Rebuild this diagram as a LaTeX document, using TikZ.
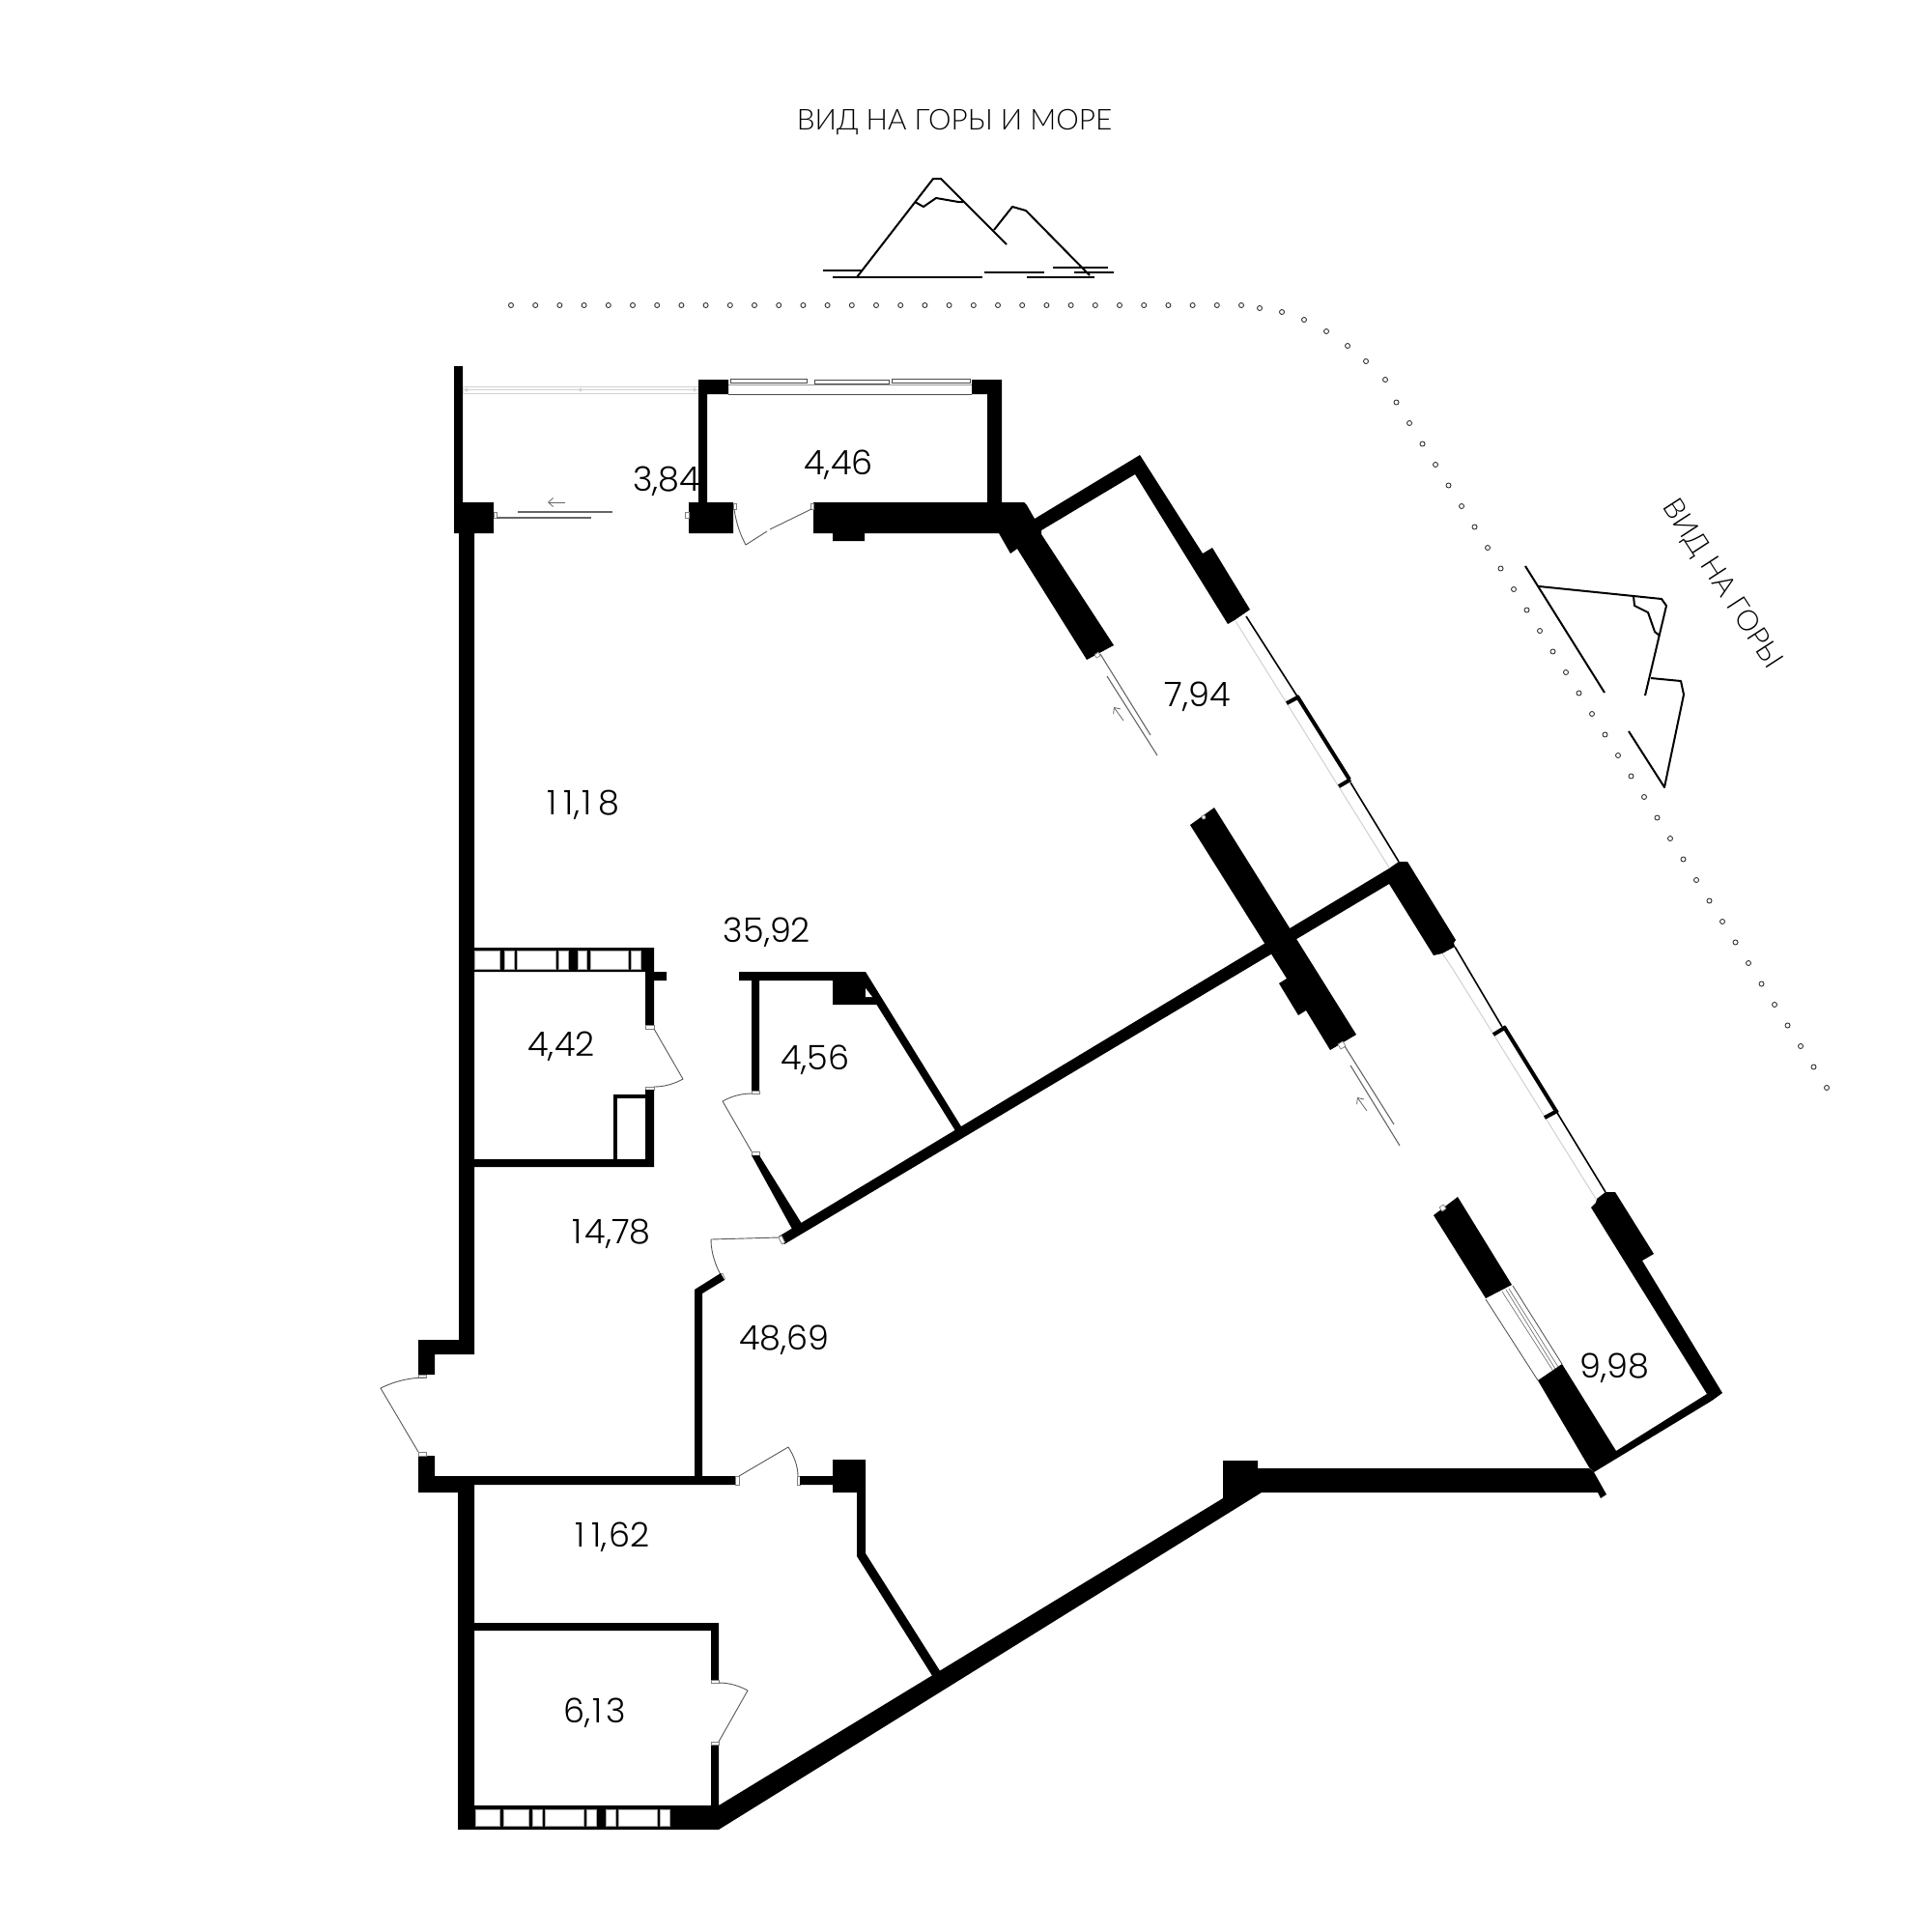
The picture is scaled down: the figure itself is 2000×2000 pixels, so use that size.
\documentclass[tikz,border=0pt]{standalone}
\usepackage{fontspec}
\usetikzlibrary{arrows.meta}
\newfontfamily\numfont{Poppins Light}
\newfontfamily\viewfont{Lato Light}
\newcommand{\oneskip}{\kern7pt}
\tikzset{
  wall/.style={fill=black,draw=none},
  jamb/.style={fill=white,draw=gray,line width=0.7},
  leaf/.style={draw=black!65,line width=0.9,line join=round},
  slide/.style={draw=black!60,line width=1.1},
  glass/.style={draw=black!18,line width=1},
  frame/.style={draw=black!70,line width=0.8,fill=white},
  hole/.style={fill=white,draw=black!35,line width=0.6},
  hill/.style={draw=black,line width=2,line join=round},
  dot/.style={circle,draw=black!80,line width=0.9,fill=white,minimum size=5,inner sep=0},
  area/.style={font=\numfont\fontsize{35}{36}\selectfont,anchor=base,inner sep=0},
  view/.style={font=\viewfont\fontsize{29.7}{30}\selectfont,inner sep=0},
  barb/.style={draw=black!60,line width=0.8,-{Straight Barb[length=5,width=9]}}
}
\begin{document}
\begin{tikzpicture}[x=1pt,y=-1pt]
\useasboundingbox (0,0) rectangle (2000,2000);
\fill[white] (0,0) rectangle (2000,2000);

% balcony north-west
\fill[wall] (470,379)--(479,379)--(479,520)--(511,520)--(511,552)--(491,552)--(491,1402)--(450,1402)--(450,1423)--(433,1423)--(433,1387)--(475,1387)--(475,552)--(470,552)--cycle;
\draw[glass] (479,400) rectangle (723,407);
\draw[glass] (479,403.5)--(723,403.5);
\foreach \x in {483,601,719}{\draw[glass,line width=0.6] (\x,403.5) circle (1.6);}
% north room
\fill[wall] (723,393)--(754,393)--(754,408)--(732,408)--(732,520)--(759,520)--(759,552)--(713,552)--(713,520)--(723,520)--cycle;
\fill[wall] (1006,393)--(1037,393)--(1037,520)--(1060,520)--(1063,523)--(1071,537)--(1180,471)--(1245,573)--(1255,567)--(1294,631)--(1291,633)--(1278,642)--(1271,646)--(1175,491)--(1078,549)--(1078,553)--(1153,668)--(1125,683)--(1053,568)--(1046,573)--(1034,552)--(895,552)--(895,560)--(862,560)--(862,552)--(842,552)--(842,520)--(1022,520)--(1022,408)--(1006,408)--cycle;
\draw[black!70,line width=0.9] (754,408)--(1006,408);
\draw[black!40,line width=0.7] (754,398)--(1006,398);
\draw[frame] (756,392) rectangle (835,396);
\draw[frame] (843,393) rectangle (920,397);
\draw[frame] (923,392) rectangle (1004,396);
% door north room
\draw[jamb] (759,521) rectangle (762,527);
\draw[jamb] (839,521) rectangle (842,527);
\draw[leaf] (760,527) .. controls (762,541) and (766,553) .. (772,564) -- (794,550);
\draw[leaf] (797,548) -- (840,527);
% sliding north-west
\draw[jamb] (511,530) rectangle (514.5,536);
\draw[jamb] (709,530) rectangle (713,536);
\draw[slide] (514,536)--(612,536);
\draw[slide] (536,530)--(634,530);
\draw[barb] (585,520)--(567,520);
% sliding 7,94
\draw[slide] (1139,677)--(1191,761);
\draw[slide] (1146,700)--(1198,782);
\draw[barb] (1163,746)--(1153,732);
\draw[jamb] (1133,678)--(1137,675)--(1139,679)--(1135,681)--cycle;
% east windows upper
\draw[glass] (1279,643)--(1438,898);
\draw[black,line width=1.6] (1290,638)--(1343,721);
\draw[black,line width=4] (1343,721)--(1397,807);
\draw[black,line width=1.6] (1398,810)--(1448,892);
\draw[black,line width=4] (1332,728)--(1345,721);
\draw[black,line width=4] (1386,814)--(1398,807);
% east block 2 and long wall
\fill[wall] (1448,892)--(1457,892)--(1507,973)--(1505,976)--(1506,980)--(1493,987)--(1484,989)--(1438,915)--(812,1288)--(806,1280)--(1438,899)--cycle;
\draw[jamb] (806,1281)--(809,1279)--(812.5,1286)--(809.5,1288)--cycle;
% central diagonal wall
\fill[wall] (1232,854)--(1257,836)--(1404,1071)--(1377,1087)--(1352,1046)--(1344,1051)--(1324,1018)--(1332,1013)--cycle;
\draw[jamb] (1246,846) circle (2);
\draw[jamb] (1385,1081)--(1390,1078)--(1393,1083)--(1388,1086)--cycle;
\draw[slide] (1392,1083)--(1443,1164);
\draw[slide] (1398,1103)--(1449,1186);
\draw[barb] (1415,1150)--(1405,1136);
% east windows lower
\draw[glass] (1502,1000)--(1652,1241);
\draw[glass] (1493,987)--(1502,1000);
\draw[black,line width=1.6] (1506,980)--(1555,1063);
\draw[black,line width=4] (1557,1063)--(1612,1152);
\draw[black,line width=1.6] (1612,1152)--(1662,1234);
\draw[black,line width=4] (1546,1071)--(1559,1063);
\draw[black,line width=4] (1599,1157)--(1612,1150);
% block 3, outer wall, balcony south wall
\fill[wall] (1662,1234)--(1672,1234)--(1712,1298)--(1700,1305)--(1783,1442)--(1772,1450)--(1650,1524)--(1645,1519)--(1592,1429)--(1617,1412)--(1673,1502)--(1767,1443)--(1647,1250)--(1652,1245)--(1653,1241)--cycle;
% lower diagonal wall
\fill[wall] (1484,1258)--(1509,1239)--(1565,1330)--(1538,1344)--cycle;
\draw[jamb] (1490,1250)--(1494,1247)--(1497,1251)--(1493,1254)--cycle;
% balcony door glazing
\draw[black!70,line width=0.8] (1538,1345)--(1592,1429);
\draw[black!70,line width=0.8] (1566,1331)--(1617,1412);
\draw[black!60,line width=0.6] (1555,1337)--(1607,1418);
\draw[black!60,line width=0.6] (1559,1335)--(1610,1417);
\draw[black!60,line width=0.6] (1562,1334)--(1613,1415);
% south wall with tail
\fill[wall] (1266,1551)--(1266,1512)--(1302,1512)--(1302,1520)--(1645,1520)--(1650,1524)--(1663,1547)--(1657,1551)--(1654,1545)--(1306,1545)--(744,1894)--(474,1894)--(474,1545)--(433,1545)--(433,1507)--(450,1507)--(450,1528)--(761,1528)--(761,1537)--(491,1537)--(491,1869)--(736,1869)--(736,1806)--(744,1806)--(744,1869)--cycle;
\foreach \a/\b in {492/517,521/547,551/561,564/604,607/617,627/637,640/680,683/693}{\draw[hole] (\a,1873) rectangle (\b,1890.5);}
% room 6,13
\fill[wall] (491,1680)--(744,1680)--(744,1740)--(736,1740)--(736,1688)--(491,1688)--cycle;
\draw[jamb] (736,1739) rectangle (744,1742);
\draw[jamb] (736,1803) rectangle (744,1806);
\draw[leaf] (744,1742) .. controls (755,1742) and (765,1745) .. (774,1750) -- (744,1803);
% room 4,42
\fill[wall] (491,981)--(677,981)--(677,1006)--(690,1006)--(690,1015)--(677,1015)--(677,1061)--(668,1061)--(668,1006)--(491,1006)--cycle;
\foreach \a/\b in {491/517,522/532,535/575,578/588,598/607.5,611/650,653/663}{\draw[hole] (\a,984) rectangle (\b,1003);}
\draw[jamb] (668,1061) rectangle (677,1065);
\draw[jamb] (668,1125) rectangle (677,1128);
\draw[leaf] (677,1065) -- (707,1117) .. controls (698,1122) and (688,1125) .. (677,1125);
\fill[wall] (668,1128)--(677,1128)--(677,1208)--(491,1208)--(491,1200)--(635,1200)--(635,1133)--(668,1133)--cycle;
\fill[white] (638.6,1137) rectangle (668,1200);
% room 4,56
\fill[wall] (765,1006)--(896,1006)--(998,1171)--(993,1177)--(907.5,1040)--(862,1040)--(862,1015)--(786,1015)--(786,1129)--(778,1129)--(778,1015)--(765,1015)--cycle;
\fill[white] (896,1023)--(896,1032)--(903,1032)--cycle;
\draw[jamb] (778,1129) rectangle (786,1132);
\draw[jamb] (778,1192) rectangle (786,1196);
\draw[leaf] (778,1132) .. controls (767,1132) and (757,1135) .. (748,1140) -- (778,1192);
\fill[wall] (778,1196)--(786,1196)--(832,1270)--(822,1276)--cycle;
% door 48,69
\draw[leaf] (806,1281) -- (736,1283) .. controls (736,1297) and (741,1312) .. (749,1325);
\draw[jamb] (746,1319)--(748,1318)--(750.5,1324)--(748,1325.5)--cycle;
\fill[wall] (746,1318)--(750,1325)--(727,1339)--(727,1528)--(719,1528)--(719,1335)--cycle;
% entrance door
\draw[jamb] (433,1423) rectangle (441,1426);
\draw[jamb] (433,1503) rectangle (441,1507);
\draw[leaf] (441,1426) .. controls (424,1426) and (408,1430) .. (394,1437) -- (433,1503);
% door 11,62
\draw[jamb] (761,1528) rectangle (765,1537);
\draw[jamb] (825,1528) rectangle (828,1537);
\draw[leaf] (765,1528) -- (816,1498) .. controls (822,1507) and (826,1518) .. (826,1528);
\fill[wall] (828,1528)--(862,1528)--(862,1511)--(896,1511)--(896,1608)--(977,1736)--(969,1741)--(887,1611)--(887,1545)--(862,1545)--(862,1537)--(828,1537)--cycle;

% mountains north
\draw[hill] (852,280)--(892,280);
\draw[hill] (862,287)--(1017,287);
\draw[hill] (887,287)--(966,185)--(974,185)--(1042,253);
\draw[hill] (947,209)--(956,214)--(969,205)--(992,209)--(997,209);
\draw[hill] (1029,238)--(1048,214)--(1062,218)--(1128,285);
\draw[hill,line width=1.6] (1019,282)--(1081,282);
\draw[hill] (1063,287)--(1133,287);
\draw[hill,line width=1.6] (1090,277)--(1147,277);
\draw[hill,line width=1.6] (1112,282)--(1153,282);
% mountains east
\draw[hill] (1579,586)--(1661,717);
\draw[hill] (1593,607)--(1691,617)--(1720,620)--(1725,627)--(1703,720);
\draw[hill] (1691,617)--(1692,627)--(1706,634)--(1713,654)--(1718,658);
\draw[hill] (1709,702)--(1740,705)--(1743,719)--(1723,815)--(1686,757);

% dotted line
\foreach \k in {0,...,30}{\node[dot] (r\k) at ({529+25.2*\k},316) {};}
\foreach \x/\y [count=\i] in {1304/319,1327/323,1350/331,1373/343,1395/358,1414/374,1434/393}{\node[dot] (c\i) at (\x,\y) {};}
\foreach \k in {-7,...,26}{\node[dot] (d\k) at ({1540+13.5*\k},{567+21.5*\k}) {};}

% texts
\node[view] (t1) at (988,127) {ВИД НА ГОРЫ И МОРЕ};
\node[view,rotate=-57] (t2) at (1782,605) {ВИД НА ГОРЫ};
\node[area] (a1) at (690,508) {3,84};
\node[area] (a2) at (868,491) {4,46};
\node[area] (a3) at (1240,731) {7,94};
\node[area] (a4) at (604,843) {1\oneskip 1,\kern2pt 1\oneskip 8};
\node[area] (a5) at (794,975) {35,92};
\node[area] (a6) at (581,1093) {4,42};
\node[area] (a7) at (844,1107) {4,56};
\node[area] (a8) at (633,1287) {1\kern3pt 4,78};
\node[area] (a9) at (812,1397) {48,69};
\node[area] (a10) at (1671,1426) {9,98};
\node[area] (a11) at (634,1601) {1\oneskip 1,\kern2pt 62};
\node[area] (a12) at (616,1783) {6,\kern2pt 1\kern4pt 3};
\end{tikzpicture}
\end{document}
